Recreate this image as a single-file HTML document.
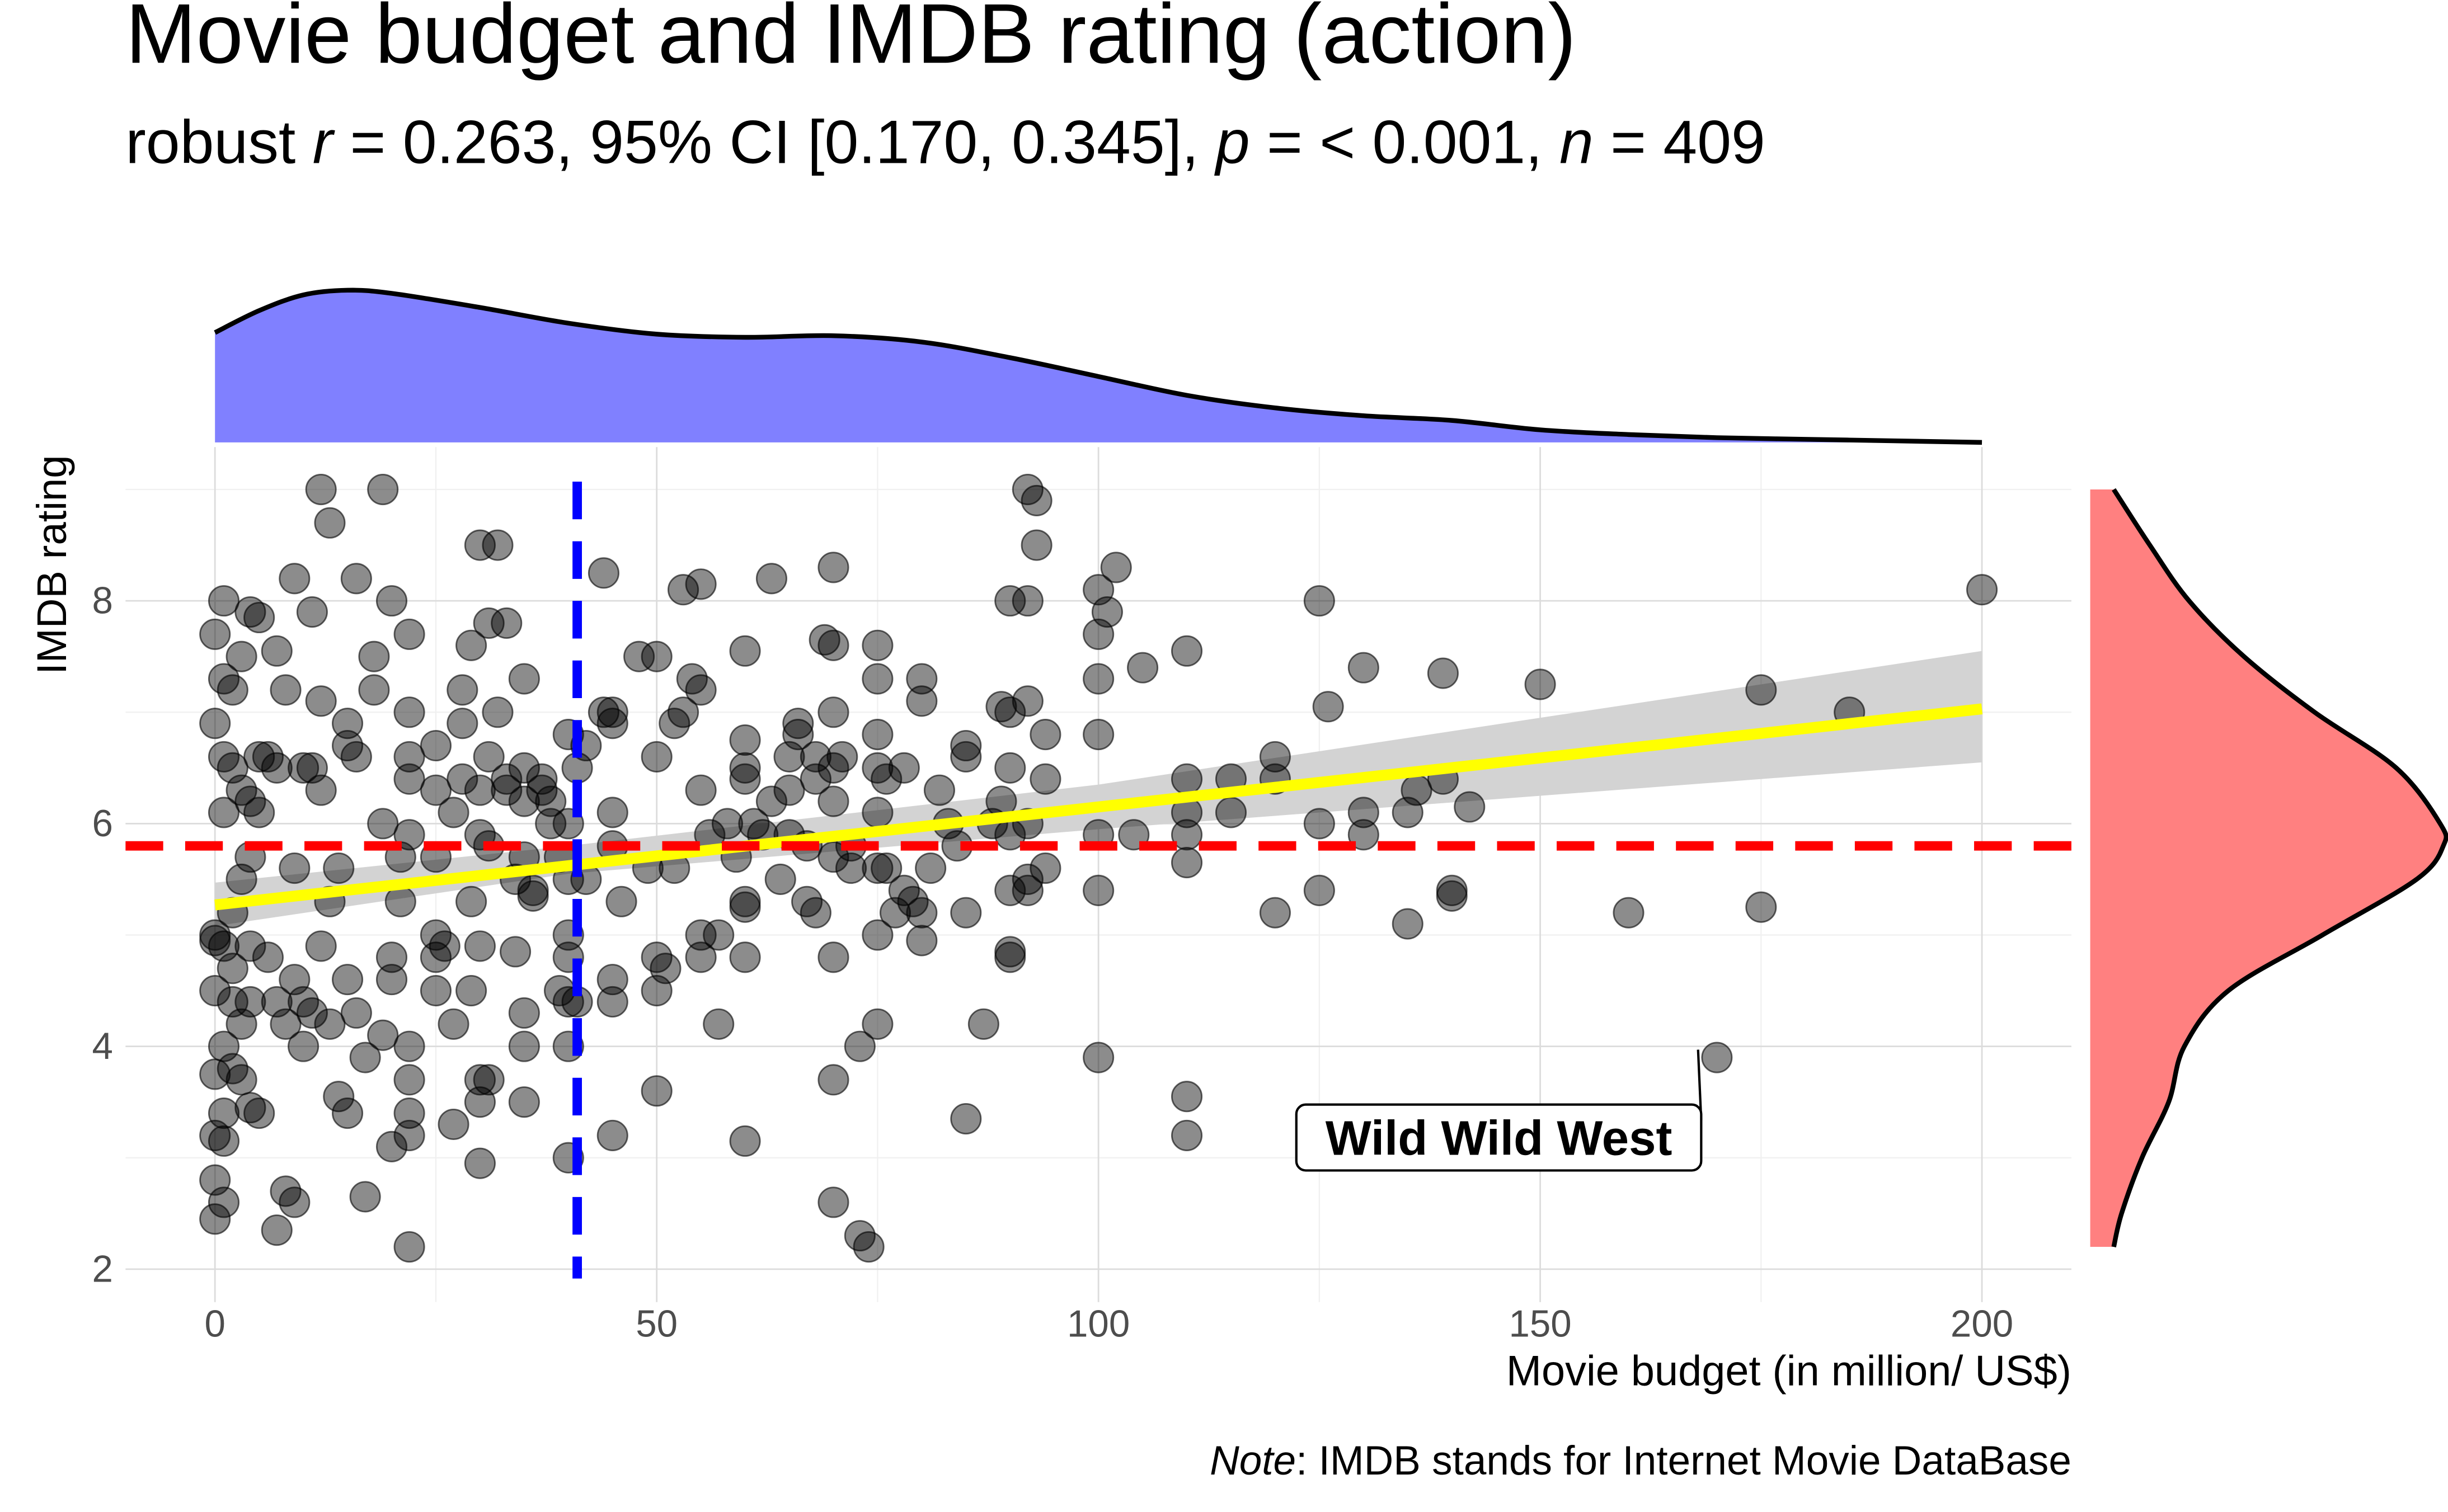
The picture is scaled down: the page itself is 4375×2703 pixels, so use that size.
<!DOCTYPE html>
<html><head><meta charset="utf-8"><style>
html,body{margin:0;padding:0;background:#fff}
svg{display:block;font-family:"Liberation Sans",sans-serif}
</style></head><body>
<svg id="chart" width="4375" height="2703" viewBox="0 0 1560 963.8" xmlns="http://www.w3.org/2000/svg">
<rect width="1560" height="963.8" fill="#fff"/>
<text x="80" y="40" font-size="54">Movie budget and IMDB rating (action)</text>
<text x="80" y="104" font-size="39">robust <tspan font-style="italic">r</tspan> = 0.263, 95% CI [0.170, 0.345], <tspan font-style="italic">p</tspan> = &lt; 0.001, <tspan font-style="italic">n</tspan> = 409</text>
<g id="grid"></g>
<g id="marks"></g>
<g id="axes"></g>
<text transform="translate(42,360) rotate(-90)" text-anchor="middle" font-size="26.5">IMDB rating</text>
<text x="1320" y="883" text-anchor="end" font-size="27">Movie budget (in million/ US$)</text>
<text x="1320" y="940" text-anchor="end" font-size="26">
<tspan font-style="italic">Note</tspan>: IMDB stands for Internet Movie DataBase</text>
</svg>
<script>
const xTicks=[0,50,100,150,200];
const yTicks=[2,4,6,8];
const points=[[0,7.7],[1,8],[1,7.3],[2,7.2],[0,6.9],[1,6.6],[2,6.5],[3,6.3],[1,6.1],[0,5.0],[1,4.9],[0,4.5],[2,4.4],[1,4.0],[0,3.75],[2,3.8],[1,3.4],[0,3.2],[1,3.15],[0,2.8],[1,2.6],[0,2.45],[3,4.2],[4,4.4],[3,3.7],[4,5.7],[5,6.6],[4,7.9],[3,7.5],[5,7.85],[4,6.2],[5,6.1],[2,5.2],[3,5.5],[4,3.45],[5,3.4],[4,4.9],[0,4.95],[2,4.7],
[6,6.6],[7,6.5],[7,7.55],[8,7.2],[6,4.8],[7,4.4],[8,4.2],[9,4.6],[10,4.4],[11,4.3],[9,5.6],[10,6.5],[11,6.5],[12,7.1],[12,6.3],[13,5.3],[13,4.2],[14,3.55],[15,3.4],[7,2.35],[8,2.7],[9,2.6],[9,8.2],[11,7.9],[12,9],[13,8.7],[10,4.0],[12,4.9],[14,5.6],[15,6.7],[15,6.9],[16,6.6],[16,8.2],[15,4.6],[16,4.3],[17,3.9],[17,2.65],[18,7.5],[18,7.2],[19,9],[20,8.0],[20,4.8],[19,4.1],[20,3.1],[21,5.3],[21,5.7],[22,7.7],[22,7.0],[22,6.6],[22,6.4],[22,5.9],[22,4.0],[22,3.7],[22,3.4],[22,3.2],[22,2.2],[20,4.6],[19,6.0],
[25,6.7],[25,6.3],[25,5.7],[25,5.0],[25,4.8],[25,4.5],[26,4.9],[27,3.3],[27,4.2],[27,6.1],[28,6.4],[28,6.9],[28,7.2],[29,7.6],[29,5.3],[29,4.5],[30,4.9],[30,5.9],[30,6.3],[30,8.5],[30,3.7],[30,3.5],[30,2.95],[31,3.7],[31,7.8],[31,6.6],[31,5.8],[32,8.5],[32,7.0],[33,7.8],[33,6.3],[33,6.4],[34,5.5],[34,4.85],[35,6.2],[35,6.5],[35,7.3],[35,5.7],[35,4.3],[35,4.0],[35,3.5],[36,5.4],[36,5.35],[37,6.3],[37,6.4],[38,6.0],[38,6.2],[39,5.7],[39,4.5],[40,6.8],[40,6.0],[40,5.0],[40,4.8],[40,4.4],[40,4.0],[40,3.0],[40,5.5],[41,6.5],[41,4.4],[42,6.7],[42,5.5],
[44,8.25],[44,7.0],[45,7.0],[45,6.9],[45,5.8],[45,6.1],[45,4.6],[45,4.4],[45,3.2],[46,5.3],[48,7.5],[49,5.6],[50,7.5],[50,4.8],[50,4.5],[50,3.6],[50,6.6],[51,4.7],[52,6.9],[52,5.6],[53,8.1],[53,7.0],[54,7.3],[55,8.15],[55,7.2],[55,6.3],[55,5.0],[55,4.8],[56,5.9],[57,4.2],[57,5.0],[58,6.0],[59,5.7],[60,7.55],[60,6.75],[60,6.5],[60,6.4],[60,5.3],[60,5.25],[60,4.8],[60,3.15],[61,6.0],[62,5.9],[63,8.2],[63,6.2],[64,5.5],
[65,6.6],[65,6.3],[65,5.9],[66,6.9],[66,6.8],[67,5.8],[67,5.3],[68,6.4],[68,6.6],[68,5.2],[69,7.65],[70,7.6],[70,6.5],[70,6.2],[70,7.0],[70,5.7],[70,4.8],[70,3.7],[70,8.3],[70,2.6],[71,6.6],[72,5.8],[72,5.6],[73,4.0],[73,2.3],[74,2.2],[75,7.6],[75,7.3],[75,6.8],[75,6.5],[75,6.1],[75,5.6],[75,5.0],[75,4.2],[76,5.6],[76,6.4],[77,5.2],[78,6.5],[78,5.4],[79,5.3],[80,7.3],[80,7.1],[80,5.2],[80,4.95],
[81,5.6],[82,6.3],[83,6.0],[84,5.8],[85,6.7],[85,6.6],[85,5.2],[85,3.35],[87,4.2],[88,6.0],[89,7.05],[89,6.2],[90,8.0],[90,7.0],[90,6.5],[90,5.9],[90,5.4],[90,4.8],[90,4.85],[92,9.0],[92,8.0],[92,7.1],[92,6.0],[92,5.5],[92,5.4],[93,8.9],[93,8.5],[94,6.8],[94,6.4],[94,5.6],[100,8.1],[100,7.7],[100,7.3],[100,6.8],[100,5.9],[100,5.4],[100,3.9],[101,7.9],[102,8.3],[104,5.9],[105,7.4],
[110,7.55],[110,6.4],[110,6.1],[110,5.9],[110,5.65],[110,3.55],[110,3.2],[115,6.1],[115,6.4],[120,6.6],[120,6.4],[120,5.2],[125,8.0],[125,6.0],[125,5.4],[126,7.05],[130,7.4],[130,6.1],[130,5.9],[135,6.1],[135,5.1],[136,6.3],[139,7.35],[139,6.4],[140,5.4],[140,5.35],[142,6.15],[150,7.25],[160,5.2],[170,3.9],[175,7.2],[175,5.25],[185,7.0],[200,8.1]];
const fitX=[0,200];
const fitY=[5.27,7.03];
const ciX=[0,40,100,200];
const ciLower=[5.08,5.55,5.95,6.55];
const ciUpper=[5.47,5.80,6.35,7.55];
const meanRating=[5.8];
const medianBudget=[41];
const densX=[0,5,10,15,20,30,40,50,60,70,80,90,100,110,120,130,140,150,160,170,180,190,200];
const densXVal=[70,84,94,97,95,86,76,69,67,68,64,54,42,30,22,17,14,8,5,3,2,1,0];
const densY=[9,8.5,8,7.5,7,6.5,6,5.8,5.5,5,4.5,4,3.5,3,2.5,2.2];
const densYVal=[15,38,63,98,143,195,223,225,208,148,88,60,50,33,20,15];
const labelPoint=[170,3.9];
const labelText=["Wild Wild West"];

const NS="http://www.w3.org/2000/svg";
const sx=v=>137+v*5.63;
const sy=v=>809-(v-2)*71;
function mk(tag,attrs,parent){const e=document.createElementNS(NS,tag);for(const k in attrs)e.setAttribute(k,attrs[k]);parent.appendChild(e);return e;}
function spline(pts){let d='';for(let i=0;i<pts.length-1;i++){const p0=pts[Math.max(0,i-1)],p1=pts[i],p2=pts[i+1],p3=pts[Math.min(pts.length-1,i+2)];
const c1=[p1[0]+(p2[0]-p0[0])/6,p1[1]+(p2[1]-p0[1])/6],c2=[p2[0]-(p3[0]-p1[0])/6,p2[1]-(p3[1]-p1[1])/6];
d+='C'+c1.join(',')+' '+c2.join(',')+' '+p2.join(',');}return d;}
const grid=document.getElementById('grid'),marks=document.getElementById('marks'),axes=document.getElementById('axes');
for(let i=0;i<xTicks.length-1;i++){const m=(xTicks[i]+xTicks[i+1])/2;const l=mk('line',{x1:sx(m),x2:sx(m),y1:285,y2:830,stroke:'#f0f0f0','stroke-width':0.8},grid);

}
for(let i=0;i<yTicks.length;i++){const m=yTicks[i]+1;const l=mk('line',{x1:80,x2:1320,y1:sy(m),y2:sy(m),stroke:'#f0f0f0','stroke-width':0.8},grid);

}
xTicks.forEach(t=>{const l=mk('line',{x1:sx(t),x2:sx(t),y1:285,y2:830,stroke:'#dcdcdc','stroke-width':1},grid);


const tx=mk('text',{x:sx(t),y:852,'text-anchor':'middle','font-size':24,fill:'#4d4d4d'},axes);tx.textContent=t;

});
yTicks.forEach(t=>{const l=mk('line',{x1:80,x2:1320,y1:sy(t),y2:sy(t),stroke:'#dcdcdc','stroke-width':1},grid);


const tx=mk('text',{x:72,y:sy(t)+8,'text-anchor':'end','font-size':24,fill:'#4d4d4d'},axes);tx.textContent=t;

});
let d='M'+ciX.map((x,i)=>sx(x)+','+sy(ciUpper[i])).join('L');
for(let i=ciX.length-1;i>=0;i--)d+='L'+sx(ciX[i])+','+sy(ciLower[i]);
const band=mk('path',{d:d+'Z',fill:'#d3d3d3'},marks);


points.forEach(p=>{const c=mk('circle',{cx:sx(p[0]),cy:sy(p[1]),r:9.5,fill:'rgba(0,0,0,0.45)',stroke:'rgba(0,0,0,0.6)','stroke-width':1},marks);

});
const fit=mk('line',{x1:sx(fitX[0]),y1:sy(fitY[0]),x2:sx(fitX[1]),y2:sy(fitY[1]),stroke:'#ffff00','stroke-width':7},marks);


const hl=mk('line',{x1:80,x2:1320,y1:sy(meanRating[0]),y2:sy(meanRating[0]),stroke:'#ff0000','stroke-width':6,'stroke-dasharray':'24,14'},marks);


const vl=mk('line',{x1:sx(medianBudget[0]),x2:sx(medianBudget[0]),y1:307,y2:815,stroke:'#0000ff','stroke-width':6,'stroke-dasharray':'24,14'},marks);


const lx=sx(labelPoint[0]),ly=sy(labelPoint[1]);
const seg=mk('line',{x1:lx-12,y1:ly-5,x2:lx-10,y2:ly+40,stroke:'#000','stroke-width':1.5},marks);


const box=mk('rect',{x:lx-268,y:ly+30,width:258,height:42,rx:6,fill:'#fff',stroke:'#000','stroke-width':1.5},marks);


const lt=mk('text',{x:lx-139,y:ly+62,'text-anchor':'middle','font-size':31,'font-weight':'bold'},marks);lt.textContent=labelText[0];


const base=282;
const tpts=densX.map((x,i)=>[sx(x),base-densXVal[i]]);
const tcurve='M'+tpts[0].join(',')+spline(tpts);
const tp=mk('path',{d:'M'+sx(densX[0])+','+base+'L'+tpts[0].join(',')+spline(tpts)+'L'+sx(densX[densX.length-1])+','+base+'Z',fill:'#8080ff'},marks);


const tl=mk('path',{d:tcurve,fill:'none',stroke:'#000','stroke-width':3},marks);


const rb=1332;
const rpts=densY.map((y,i)=>[rb+densYVal[i],sy(y)]);
const rp=mk('path',{d:'M'+rb+','+sy(densY[0])+'L'+rpts[0].join(',')+spline(rpts)+'L'+rb+','+sy(densY[densY.length-1])+'Z',fill:'#ff8080'},marks);


const rl=mk('path',{d:'M'+rpts[0].join(',')+spline(rpts),fill:'none',stroke:'#000','stroke-width':3},marks);


</script>
</body></html>
